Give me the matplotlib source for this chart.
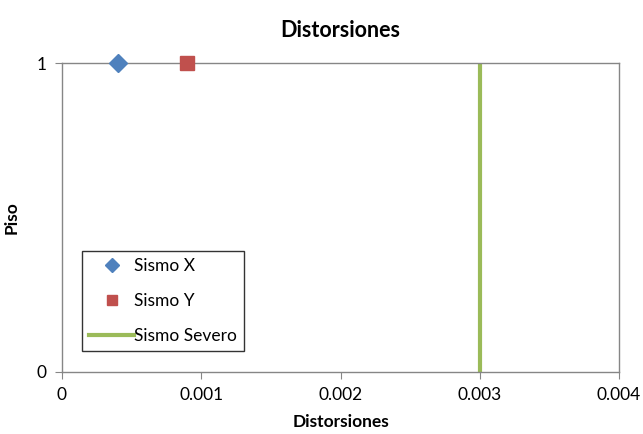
import matplotlib.pyplot as plt

plt.rcParams['font.family'] = ['Lato', 'DejaVu Sans']

sismo_x = [0.0004]
sismo_x_piso = [1]
sismo_y = [0.0009]
sismo_y_piso = [1]
severo_x = [0.003, 0.003]
severo_piso = [0, 1]

fig = plt.figure(figsize=(6.43, 4.34), dpi=100)
ax = fig.add_axes([0.0964, 0.1429, 0.8663, 0.7119])

ax.axhline(1, color='#555555', linewidth=1.2, zorder=1)
ax.plot(sismo_x, sismo_x_piso, linestyle='none', marker='D', markersize=9.5,
        color='#4F81BD', label='Sismo X', zorder=3, clip_on=False)
ax.plot(sismo_y, sismo_y_piso, linestyle='none', marker='s', markersize=10,
        color='#C0504D', label='Sismo Y', zorder=3, clip_on=False)
ax.plot(severo_x, severo_piso, color='#9BBB59', linewidth=3, label='Sismo Severo', zorder=2)

ax.set_xlim(0, 0.004)
ax.set_ylim(0, 1)
ax.set_xticks([0, 0.001, 0.002, 0.003, 0.004])
ax.set_xticklabels(['0', '0.001', '0.002', '0.003', '0.004'])
ax.set_yticks([0, 1])
ax.tick_params(axis='both', direction='out', length=5, color='#868686', labelsize=12.5, pad=6)

for s in ax.spines.values():
    s.set_color('#868686')
    s.set_linewidth(1)

ax.set_title('Distorsiones', fontsize=15.5, fontweight='bold', pad=19)
ax.set_xlabel('Distorsiones', fontsize=12.5, fontweight='bold', labelpad=8)
ax.set_ylabel('Piso', fontsize=12.5, fontweight='bold', labelpad=12)

leg = ax.legend(loc='lower left', bbox_to_anchor=(0.036, 0.068), borderaxespad=0,
                fontsize=12.5, frameon=True, fancybox=False, edgecolor='black',
                handlelength=2.6, labelspacing=1.1, borderpad=0.4, handletextpad=0.0,
                markerscale=0.75)
leg.get_frame().set_linewidth(1)

fig.savefig('out.png', dpi=100)
